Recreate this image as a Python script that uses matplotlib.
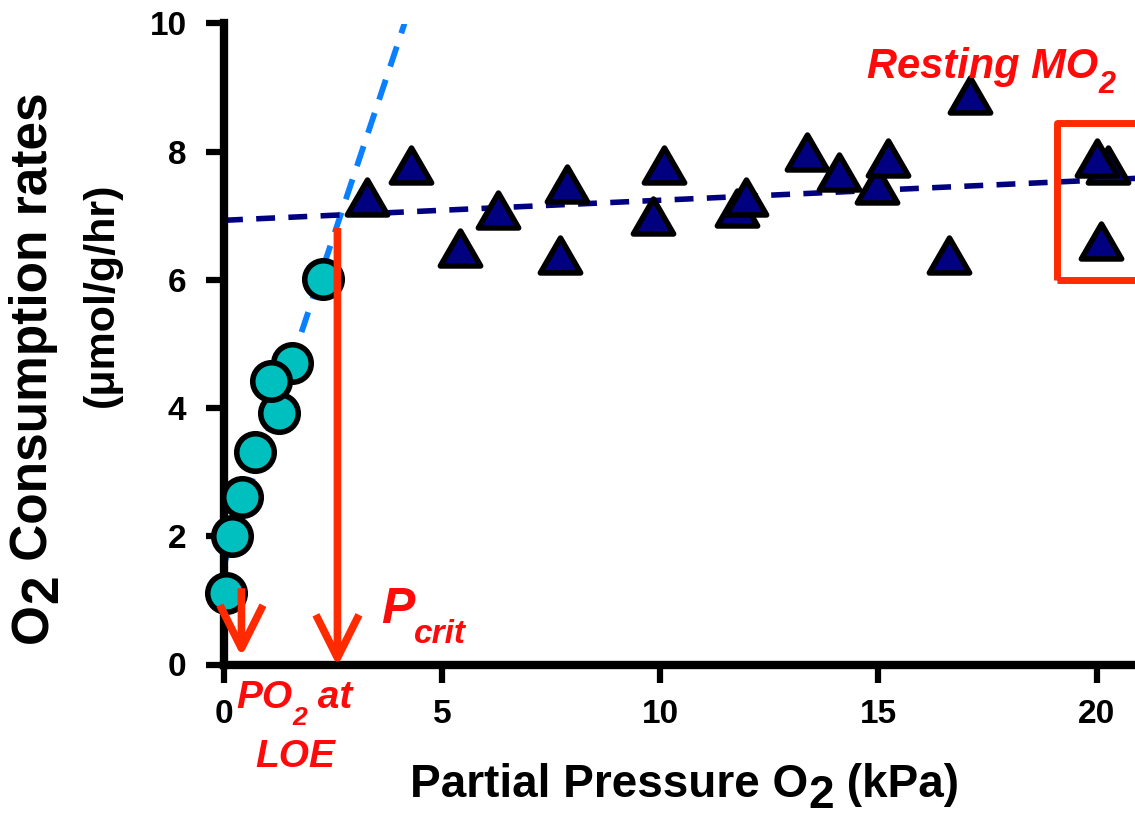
import matplotlib
matplotlib.use('Agg')
import matplotlib.pyplot as plt
import numpy as np
from matplotlib.markers import MarkerStyle
from matplotlib.patches import Rectangle
from matplotlib.path import Path
from matplotlib.transforms import IdentityTransform

# MO2 measurements below the critical point (circles)
low_po2 = [0.05, 0.19, 0.41, 0.71, 1.26, 1.57, 1.08, 2.26]
low_mo2 = [1.12, 2.01, 2.62, 3.32, 3.92, 4.71, 4.42, 6.01]

# MO2 measurements in the oxyregulating range (triangles)
high_po2 = [3.27, 4.28, 5.41, 6.29, 7.69, 7.87, 9.84, 10.09, 11.76, 11.96,
            13.37, 14.10, 14.96, 15.23, 16.62, 17.10, 20.27, 20.00, 20.10]
high_mo2 = [7.30, 7.79, 6.49, 7.09, 6.39, 7.49, 6.99, 7.79, 7.12, 7.29,
            8.00, 7.69, 7.48, 7.90, 6.39, 8.88, 7.79, 7.90, 6.60]

# linear fits (intercept, slope)
low_fit = (1.56, 2.04)
high_fit = (6.93, 0.0313)

pcrit = 2.60
pcrit_mo2 = 6.81
po2_loe = 0.40
loe_mo2 = 1.19
loe_tip = 0.12

# resting MO2 box: left, bottom, top
resting_box = (19.09, 6.00, 8.44)

xticks = [0, 5, 10, 15, 20]
yticks = [0, 2, 4, 6, 8, 10]

RED = '#FF2A00'
TXT_RED = '#FF0A0A'

plt.rcParams['font.family'] = ['Liberation Sans', 'DejaVu Sans']
plt.rcParams['font.weight'] = 'bold'

W, H = 1135, 819
fig = plt.figure(figsize=(W / 100, H / 100), dpi=100)
ax = fig.add_axes([224 / W, (H - 664.5) / H, (W - 224) / W, (664.5 - 23.5) / H])


def put_runs(x, y, runs, rotate=False, **kw):
    # pieces of text placed end to end; x, y are pixels from top-left at the baseline
    r = fig.canvas.get_renderer()
    for s, size, dy in runs:
        if rotate:
            t = fig.text(x + dy, H - y, s, fontsize=size, rotation=90,
                         rotation_mode='anchor', ha='left', va='baseline',
                         transform=IdentityTransform(), **kw)
            y -= t.get_window_extent(r).height
        else:
            t = fig.text(x, H - y - dy, s, fontsize=size, ha='left',
                         va='baseline', transform=IdentityTransform(), **kw)
            x += t.get_window_extent(r).width


# fit lines
b, m = low_fit
xs = np.array([0, (10 - b) / m])
ax.plot(xs, b + m * xs, color='#0A80FF', lw=4.2, dashes=(3.6, 2.4), zorder=2)
b, m = high_fit
xs = np.array([0, 21])
ax.plot(xs, b + m * xs, color='#000080', lw=4.0, dashes=(3.4, 2.4), zorder=2)

# data points (equilateral triangle, closed so every side gets an outline)
tri_path = Path([(0, 0.866), (-1, -0.866), (1, -0.866), (0, 0.866)], closed=True)
tri = MarkerStyle(tri_path, joinstyle='round')
ax.plot(high_po2, high_mo2, ls='none', marker=tri, ms=29, mfc='#000080',
        mec='black', mew=4.0, zorder=4, clip_on=False)
ax.plot(low_po2, low_mo2, ls='none', marker='o', ms=27, mfc='#00BFBF',
        mec='black', mew=4.0, zorder=4, clip_on=False)

# arrows to the x axis
arrow = dict(arrowstyle='->,head_length=3.1,head_width=1.55', color=RED,
             lw=5.5, mutation_scale=10, shrinkA=0, shrinkB=0, capstyle='butt')
ax.annotate('', xy=(pcrit, -0.03), xytext=(pcrit, pcrit_mo2),
            arrowprops=arrow, zorder=5, annotation_clip=False)
ax.annotate('', xy=(po2_loe, loe_tip), xytext=(po2_loe, loe_mo2),
            arrowprops=arrow, zorder=5, annotation_clip=False)

left, bottom, top = resting_box
ax.add_patch(Rectangle((left, bottom), 3, top - bottom, fill=False,
                       ec=RED, lw=5, joinstyle='round', zorder=3))

ax.set_xlim(0, (W - 224) / 43.63)
ax.set_ylim(0, 10)
ax.set_xticks(xticks)
ax.set_yticks(yticks)
ax.tick_params(axis='both', direction='out', length=13, width=4.5,
               labelsize=24, color='black')
ax.tick_params(axis='x', pad=12)
ax.tick_params(axis='y', pad=14)
for side in ['top', 'right']:
    ax.spines[side].set_visible(False)
for side in ['left', 'bottom']:
    ax.spines[side].set_linewidth(6)

# axis titles
put_runs(410, 797, [('Partial Pressure O', 33, 0), ('2', 33, 11), (' (kPa)', 33, 0)],
         fontweight='bold', color='black')
put_runs(47, 643, [('O', 37, 0), ('2', 37, 10), (' Consumption rates', 37, 0)],
         rotate=True, fontweight='bold', color='black')
fig.text(113, H - 295, '(μmol/g/hr)', fontsize=31, rotation=90,
         rotation_mode='anchor', ha='center', va='baseline',
         transform=IdentityTransform(), fontweight='bold')

# annotations
red_kw = dict(fontweight='bold', fontstyle='italic', color=TXT_RED)
put_runs(867, 78, [('Resting MO', 30, 0), ('2', 22, 15)], **red_kw)
put_runs(381, 623, [('P', 36, 0), ('crit', 24, 20)], **red_kw)
put_runs(236, 708, [('PO', 28, 0), ('2', 19, 17), (' at', 28, 0)], **red_kw)
put_runs(255, 767, [('LOE', 28, 0)], **red_kw)

fig.savefig('out.png', dpi=100)
